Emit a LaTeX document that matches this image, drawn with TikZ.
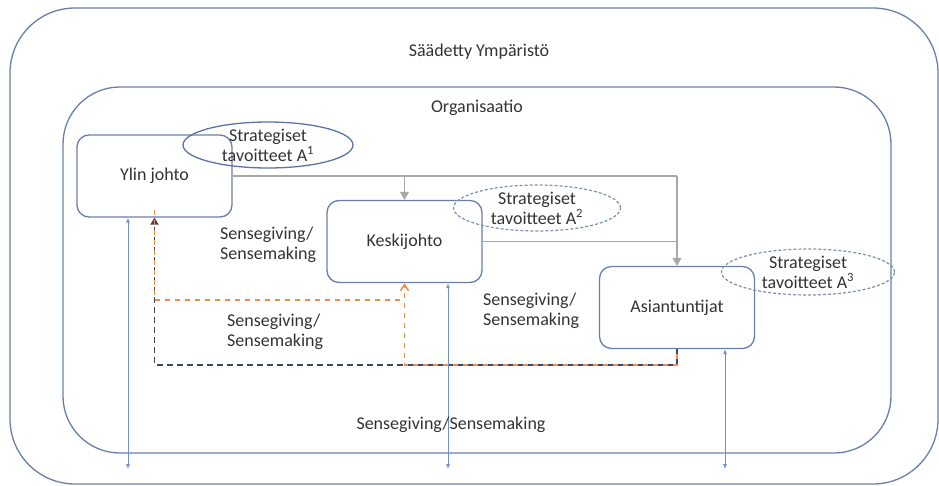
\documentclass[tikz,border=0pt]{standalone}
\usepackage{fontspec}
\setmainfont{Carlito}
\usetikzlibrary{arrows.meta,shapes.geometric}

\definecolor{frameblue}{HTML}{6A7FA8}
\definecolor{ellblue}{HTML}{5A74A8}
\definecolor{dashblue}{HTML}{7F8FB0}
\definecolor{linkgray}{HTML}{A8A8A8}
\definecolor{arrowblue}{HTML}{6F8FCF}
\definecolor{darkdash}{HTML}{3C4660}
\definecolor{orangedash}{HTML}{ED8E4B}
\definecolor{txt}{HTML}{333333}

\tikzset{
  every node/.style={text=txt, font=\fontsize{18}{20}\selectfont},
  container/.style={draw=frameblue, line width=1.3pt, rectangle, inner sep=0pt},
  levelbox/.style={draw=frameblue, line width=1.3pt, rectangle, rounded corners=12pt,
    minimum width=155pt, minimum height=82pt, inner sep=0pt},
  goal/.style={ellipse, inner sep=0pt, align=center, font=\fontsize{18}{20}\selectfont},
  goalsolid/.style={goal, draw=ellblue, line width=1.3pt},
  goaldashed/.style={goal, draw=dashblue, line width=1.2pt, dash pattern=on 3pt off 2pt},
  flowlabel/.style={align=left, anchor=west, inner sep=0pt},
  toplink/.style={draw=linkgray, line width=1.1pt},
  toparrow/.style={toplink, -{Triangle[width=9pt,length=8pt]}},
  feedback/.style={draw=arrowblue, line width=0.9pt,
    {Latex[width=4pt,length=5pt]}-{Latex[width=4pt,length=5pt]}},
  darkloop/.style={draw=darkdash, line width=1.8pt, dash pattern=on 6pt off 4pt},
  orangeloop/.style={draw=orangedash, line width=1.6pt, dash pattern=on 5pt off 5pt,
    dash phase=5pt},
}

\begin{document}
\begin{tikzpicture}[x=1pt, y=-1pt]
  \useasboundingbox (0,0) rectangle (939,486);

  % environment and organisation frames
  \node[container, rounded corners=65pt, minimum width=928pt, minimum height=476pt]
    (env) at (474,246) {};
  \node[container, rounded corners=57pt, minimum width=828pt, minimum height=366pt]
    (org) at (477,270) {};
  \node (envlabel) at (479,52) {Säädetty Ympäristö};
  \node (orglabel) at (477,108) {Organisaatio};

  % organisational levels
  \node[levelbox] (yj) at (154.5,176) {Ylin johto};
  \node[levelbox] (kj) at (404.5,241.5) {Keskijohto};
  \node[levelbox] (as) at (677,307.5) {Asiantuntijat};

  % strategic goals of each level
  \node[goalsolid, minimum width=170pt, minimum height=40pt] (g1) at (268,145)
    {Strategiset\\tavoitteet A\textsuperscript{1}};
  \node[goaldashed, minimum width=167pt, minimum height=40pt] (g2) at (537,208)
    {Strategiset\\tavoitteet A\textsuperscript{2}};
  \node[goaldashed, minimum width=173pt, minimum height=41pt] (g3) at (808,272)
    {Strategiset\\tavoitteet A\textsuperscript{3}};

  % top-down links
  \coordinate (tr) at (677,176);
  \path[toplink] (yj.east) -- (tr);
  \path[toparrow] (tr) -- (as.north);
  \path[toparrow] (yj.east -| kj.north) -- (kj.north);
  \path[toplink] (kj.east) -- (kj.east -| as.north);

  % bottom-up dashed loops
  \coordinate (dl) at (154.5,365);
  \coordinate (ol) at (154.5,300);
  \path[darkloop, -{Triangle[width=8pt,length=7pt]}]
    (as.south) |- (dl) -- (yj.south);
  \path[orangeloop, -{Straight Barb[width=8pt,length=6pt]}]
    (as.south) |- (kj.south |- dl) -- (kj.south);
  \path[orangeloop] (kj.south |- ol) -- (ol) -- ([yshift=8pt]yj.south);

  % exchange with the environment
  \coordinate (e1) at (128,469);
  \coordinate (e2) at (448,469);
  \coordinate (e3) at (725,469);
  \path[feedback] (yj.south -| e1) -- (e1);
  \path[feedback] (kj.south -| e2) -- (e2);
  \path[feedback] (as.south -| e3) -- (e3);

  % sensegiving / sensemaking labels
  \node[flowlabel] (s1) at (220,245) {Sensegiving/\\Sensemaking};
  \node[flowlabel] (s2) at (227,332) {Sensegiving/\\Sensemaking};
  \node[flowlabel] (s3) at (483,311) {Sensegiving/\\Sensemaking};
  \node (s4) at (451,425) {Sensegiving/Sensemaking};
\end{tikzpicture}
\end{document}
